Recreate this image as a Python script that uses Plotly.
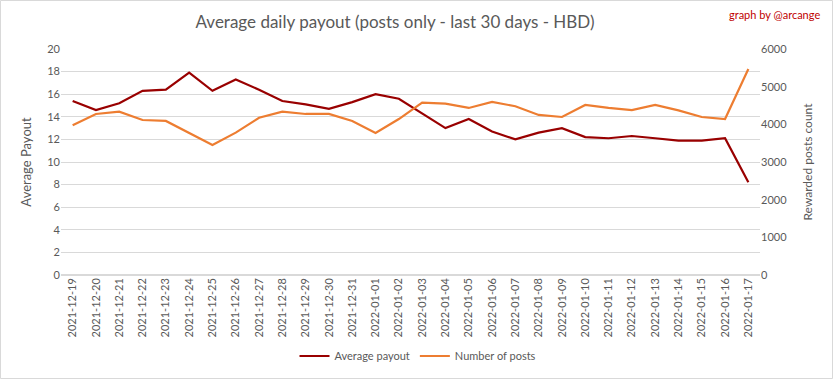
import plotly.graph_objects as go

dates = ["2021-12-19","2021-12-20","2021-12-21","2021-12-22","2021-12-23","2021-12-24","2021-12-25",
         "2021-12-26","2021-12-27","2021-12-28","2021-12-29","2021-12-30","2021-12-31","2022-01-01",
         "2022-01-02","2022-01-03","2022-01-04","2022-01-05","2022-01-06","2022-01-07","2022-01-08",
         "2022-01-09","2022-01-10","2022-01-11","2022-01-12","2022-01-13","2022-01-14","2022-01-15",
         "2022-01-16","2022-01-17"]
avg_payout = [15.4, 14.6, 15.2, 16.3, 16.4, 17.9, 16.3, 17.3, 16.4, 15.4, 15.1, 14.7, 15.3, 16.0,
              15.6, 14.3, 13.0, 13.8, 12.7, 12.0, 12.6, 13.0, 12.2, 12.1, 12.3, 12.1, 11.9, 11.9,
              12.1, 8.2]
num_posts = [3975, 4275, 4335, 4115, 4090, 3780, 3450, 3780, 4175, 4335, 4275, 4275, 4090, 3770,
             4140, 4575, 4550, 4435, 4595, 4480, 4250, 4195, 4515, 4435, 4380, 4515, 4370, 4195,
             4140, 5470]

W, H = 833, 379
L, R, T, B = 61, 73, 49, 104
pw, ph = W - L - R, H - T - B

fig = go.Figure()
fig.add_trace(go.Scatter(x=dates, y=avg_payout, name="Average payout", mode="lines",
                         line=dict(color="#990000", width=2.2)))
fig.add_trace(go.Scatter(x=dates, y=num_posts, name="Number of posts", mode="lines",
                         line=dict(color="#ed7d31", width=2.2), yaxis="y2"))

font_fam = "Lato, 'Open Sans', sans-serif"
fig.update_layout(
    width=W, height=H,
    margin=dict(l=L, r=R, t=T, b=B, autoexpand=False),
    paper_bgcolor="white", plot_bgcolor="white",
    font=dict(family=font_fam, color="#595959", size=11),
    title=dict(text="Average daily payout (posts only - last 30 days - HBD)",
               x=395 / W, xanchor="center", y=1 - 22 / H, yanchor="middle",
               font=dict(size=17, color="#595959", family=font_fam)),
    xaxis=dict(type="category", tickangle=-90, showgrid=False, showline=False,
               ticks="", tickfont=dict(size=11, color="#595959"), automargin=False,
               range=[-0.5, len(dates) - 0.5]),
    yaxis=dict(range=[0, 20], dtick=2, showgrid=True, gridcolor="#d9d9d9", gridwidth=1,
               zeroline=True, zerolinecolor="#d9d9d9", showline=False, ticks="", automargin=False,
               title=dict(text="Average Payout", font=dict(size=13, color="#595959"), standoff=12),
               tickfont=dict(size=11, color="#595959")),
    yaxis2=dict(range=[0, 6000], dtick=1000, overlaying="y", side="right", showgrid=False,
                zeroline=False, showline=False, ticks="", automargin=False,
                title=dict(text="Rewarded posts count", font=dict(size=12, color="#595959"), standoff=17),
                tickfont=dict(size=11, color="#595959")),
    legend=dict(orientation="h", x=418 / W, xref="container", xanchor="center",
                y=1 - 356 / H, yref="container", yanchor="middle",
                font=dict(size=11, color="#595959"), itemwidth=30),
    showlegend=True,
)

fig.add_annotation(text="graph by @arcange", xref="paper", yref="paper",
                   x=(822 - L) / pw, y=1 + (T - 14) / ph, xanchor="right", yanchor="middle",
                   showarrow=False, font=dict(size=11, color="#c00000", family=font_fam))

fig.add_shape(type="rect", xref="paper", yref="paper",
              x0=(0.5 - L) / pw, x1=(W - 0.5 - L) / pw,
              y0=-(B - 0.5) / ph, y1=1 + (T - 0.5) / ph,
              line=dict(color="#d9d9d9", width=1), layer="below")

fig.write_html("out.html", config={"displayModeBar": False},
               post_script="document.body.style.margin='0';document.body.style.overflow='hidden';")
